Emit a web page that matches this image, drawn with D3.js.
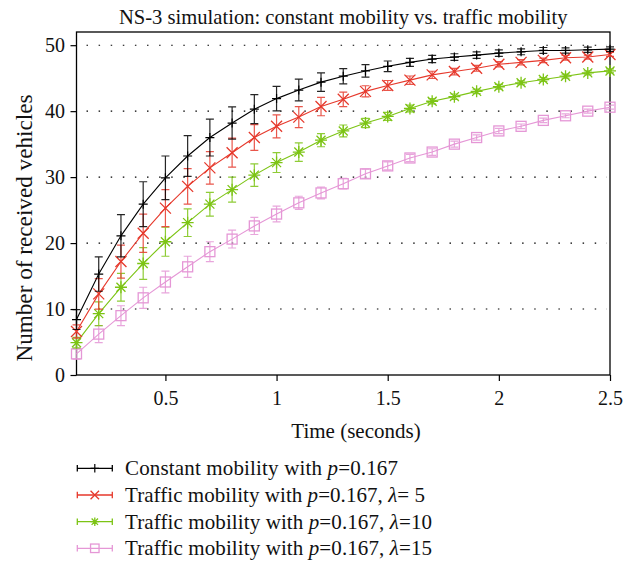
<!DOCTYPE html>
<html><head><meta charset="utf-8">
<script src="https://cdn.jsdelivr.net/npm/d3@7"></script>
<style>
html,body{margin:0;padding:0;background:#fff;}
svg{display:block;font-family:"Liberation Serif","DejaVu Serif",serif;}
</style></head>
<body>
<svg id="chart" width="637" height="561"></svg>
<script>
const times = [0.1,0.2,0.3,0.4,0.5,0.6,0.7,0.8,0.9,1.0,1.1,1.2,1.3,1.4,1.5,1.6,1.7,1.8,1.9,2.0,2.1,2.2,2.3,2.4,2.5];
const constantVals = [8.4,15.3,21.1,25.9,29.9,33.2,36.0,38.2,40.3,41.9,43.2,44.4,45.3,46.1,46.8,47.4,47.9,48.2,48.5,48.8,49.0,49.2,49.2,49.3,49.4];
const constantErr  = [1.5,2.6,3.2,3.4,3.3,3.1,2.8,2.45,2.2,1.85,1.65,1.4,1.15,0.95,0.8,0.6,0.55,0.5,0.5,0.5,0.45,0.45,0.4,0.4,0.35];
const lambda5Vals  = [6.6,12.3,17.2,21.5,25.3,28.6,31.4,33.7,36.0,37.7,39.1,40.7,41.8,43.0,43.9,44.7,45.5,46.0,46.5,47.1,47.4,47.7,48.1,48.2,48.6];
const lambda5Err   = [1.0,2.3,2.5,2.9,2.8,2.7,2.45,2.2,1.95,1.75,1.6,1.4,1.1,0.85,0.75,0.63,0.55,0.5,0.45,0.4,0.4,0.35,0.35,0.3,0.3];
const lambda10Vals = [4.9,9.3,13.3,16.9,20.2,23.1,25.9,28.1,30.3,32.2,33.8,35.6,37.0,38.2,39.2,40.4,41.5,42.2,43.0,43.7,44.3,44.8,45.3,45.8,46.1];
const lambda10Err  = [0.8,1.8,2.1,2.4,2.2,2.1,1.8,1.9,1.7,1.5,1.4,1.0,0.9,0.7,0.6,0.5,0.4,0.4,0.35,0.35,0.3,0.3,0.3,0.3,0.3];
const lambda15Vals = [3.2,6.2,9.0,11.7,14.1,16.4,18.7,20.6,22.6,24.4,26.1,27.6,29.0,30.5,31.7,32.9,33.8,35.0,36.0,37.0,37.7,38.6,39.3,40.0,40.6];
const lambda15Err  = [0.8,1.3,1.5,1.6,1.65,1.6,1.5,1.35,1.3,1.2,1.0,0.9,0.8,0.7,0.6,0.55,0.5,0.45,0.4,0.4,0.35,0.35,0.3,0.3,0.3];

const xTicks = [0.5,1,1.5,2,2.5];
const yTicks = [0,10,20,30,40,50];
const gridTicks = [10,20,30,40,50];

const titleText = "NS-3 simulation: constant mobility vs. traffic mobility";
const xTitle = "Time (seconds)";
const yTitle = "Number of received vehicles";

const seriesNames = ["constant","lambda5","lambda10","lambda15"];
const seriesColors = ["#000000","#e6392c","#7cc414","#e597d6"];
const seriesMarkers = ["plus","x","star","square"];
const legendParts = [
  [["Constant mobility with ",false],["p",true],["=0.167",false]],
  [["Traffic mobility with ",false],["p",true],["=0.167, ",false],["λ",true],["= 5",false]],
  [["Traffic mobility with ",false],["p",true],["=0.167, ",false],["λ",true],["=10",false]],
  [["Traffic mobility with ",false],["p",true],["=0.167, ",false],["λ",true],["=15",false]]
];
const legendWidths = [273,300,307,307];
const seriesVals = [constantVals, lambda5Vals, lambda10Vals, lambda15Vals];
const seriesErrs = [constantErr, lambda5Err, lambda10Err, lambda15Err];

const svg = d3.select("#chart");
const m = {left:76.5, right:27, top:32, bottom:186};
const W = 637, H = 561;
const x = d3.scaleLinear().domain([0.1,2.5]).range([m.left, W-m.right]);
const y = d3.scaleLinear().domain([0,52]).range([H-m.bottom, m.top]);

// grid
svg.append("g").selectAll("line").data(gridTicks).join("line")
  .attr("x1", x(0.1)+10).attr("x2", x(2.5)-3)
  .attr("y1", d=>y(d)).attr("y2", d=>y(d))
  .attr("stroke","#000").attr("stroke-width",1.1)
  .attr("stroke-dasharray","1.5,10.6");

// frame
svg.append("rect").attr("x",x(0.1)).attr("y",y(52))
  .attr("width",x(2.5)-x(0.1)).attr("height",y(0)-y(52))
  .attr("fill","none").attr("stroke","#000").attr("stroke-width",1.3);

// axes
const xAxis = svg.append("g").attr("transform",`translate(0,${y(0)})`)
  .call(d3.axisBottom(x).tickValues(xTicks).tickSize(6).tickPadding(9.5).tickFormat(d3.format("~g")));
const yAxis = svg.append("g").attr("transform",`translate(${x(0.1)},0)`)
  .call(d3.axisLeft(y).tickValues(yTicks).tickSize(6).tickPadding(5.5).tickFormat(d3.format("d")));
[xAxis,yAxis].forEach(a=>{
  a.select(".domain").remove();
  a.selectAll(".tick line").attr("stroke","#000").attr("stroke-width",1.2);
  a.selectAll("text").attr("fill","#111").style("font-size","20px").style("font-family","Liberation Serif, serif");
});

// titles
svg.append("text").attr("x",(x(0.1)+x(2.5))/2).attr("y",24).attr("text-anchor","middle")
  .style("font-size","20.6px").attr("fill","#111").text(titleText);
svg.append("text").attr("x",356).attr("y",438).attr("text-anchor","middle")
  .style("font-size","21px").attr("fill","#111").text(xTitle);
svg.append("text").attr("transform","translate(31.5,228) rotate(-90)").attr("text-anchor","middle")
  .style("font-size","23.2px").attr("fill","#111").text(yTitle);

function drawMarker(g, type, color, s){
  if(type==="plus"){
    g.append("path").attr("d",`M${-s/2},0H${s/2}M0,${-s/2}V${s/2}`).attr("stroke",color).attr("stroke-width",1.2).attr("fill","none");
  } else if(type==="x"){
    const h=s/2;
    g.append("path").attr("d",`M${-h},${-h}L${h},${h}M${-h},${h}L${h},${-h}`).attr("stroke",color).attr("stroke-width",1.3).attr("fill","none");
  } else if(type==="star"){
    const h=s/2, d=h*0.75;
    g.append("path").attr("d",`M${-h},0H${h}M0,${-h}V${h}M${-d},${-d}L${d},${d}M${-d},${d}L${d},${-d}`).attr("stroke",color).attr("stroke-width",1.3).attr("fill","none");
  } else if(type==="square"){
    g.append("rect").attr("x",-s/2).attr("y",-s/2).attr("width",s).attr("height",s).attr("stroke",color).attr("stroke-width",1.3).attr("fill","none");
  }
}
const markerSizes = {plus:9, x:11, star:12, square:10};
const capW = 4;

// draw series (back to front: pink first)
for(let si=seriesNames.length-1; si>=0; si--){
  const vals = seriesVals[si], errs = seriesErrs[si], color = seriesColors[si];
  const data = times.map((t,i)=>({t, v:vals[i], e:errs[i]}));
  const g = svg.append("g").attr("class","series-"+seriesNames[si]);
  g.append("path").datum(data)
    .attr("d", d3.line().x(d=>x(d.t)).y(d=>y(d.v)))
    .attr("fill","none").attr("stroke",color).attr("stroke-width",1.1);
  const eb = g.append("g").attr("stroke",color).attr("stroke-width",1.2).attr("fill","none").attr("opacity",0.85);
  eb.selectAll("path").data(data).join("path")
    .attr("d", d=>{
      const cx=x(d.t), y1=y(d.v+d.e), y2=y(d.v-d.e);
      return `M${cx},${y1}V${y2}M${cx-capW},${y1}H${cx+capW}M${cx-capW},${y2}H${cx+capW}`;
    });
  data.forEach(d=>{
    const mg = g.append("g").attr("transform",`translate(${x(d.t)},${y(d.v)})`);
    drawMarker(mg, seriesMarkers[si], color, markerSizes[seriesMarkers[si]]);
  });
}

// legend
const legY = [468.3,495,521.7,548.3];
seriesNames.forEach((n,i)=>{
  const g = svg.append("g").attr("transform",`translate(0,${legY[i]})`);
  const c = seriesColors[i];
  g.append("path").attr("d","M77.3,0H112.3M77.3,-3.2V3.2M112.3,-3.2V3.2").attr("stroke",c).attr("stroke-width",1.3).attr("fill","none");
  const mg = g.append("g").attr("transform","translate(94.8,0)");
  drawMarker(mg, seriesMarkers[i], c, 8.5);
  const t = g.append("text").attr("x",125).attr("y",7).style("font-size","21px").attr("fill","#111")
    .attr("textLength", legendWidths[i]).attr("lengthAdjust","spacing");
  legendParts[i].forEach(p=>{
    t.append("tspan").text(p[0]).style("font-style", p[1]?"italic":"normal");
  });
});
</script>
</body></html>
